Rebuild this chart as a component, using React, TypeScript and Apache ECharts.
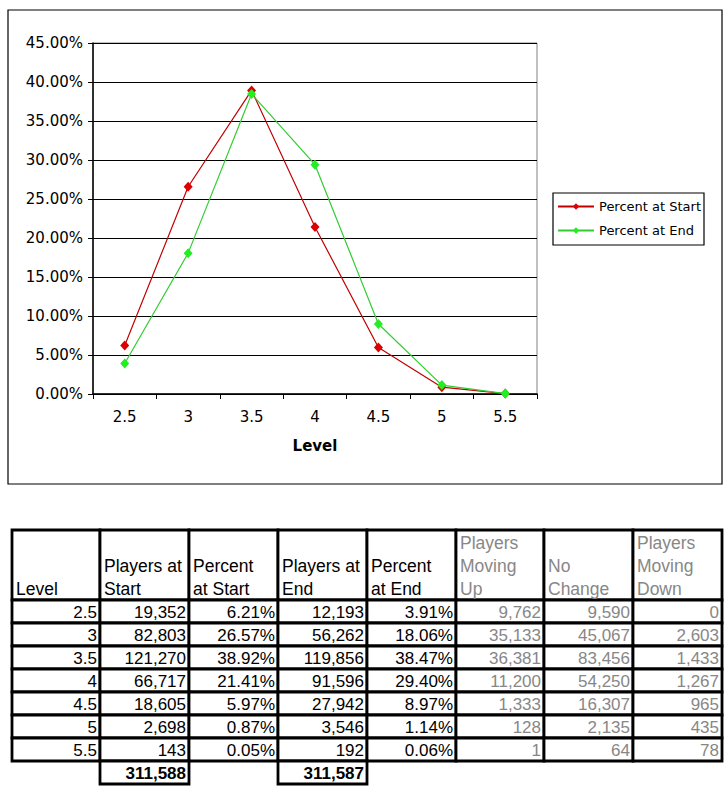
import React, { useEffect, useRef } from "react";
import * as echarts from "echarts";

const levels = ["2.5", "3", "3.5", "4", "4.5", "5", "5.5"];
const pctStart = [6.21, 26.57, 38.92, 21.41, 5.97, 0.87, 0.05];
const pctEnd = [3.91, 18.06, 38.47, 29.4, 8.97, 1.14, 0.06];
const playersStart = [19352, 82803, 121270, 66717, 18605, 2698, 143];
const playersEnd = [12193, 56262, 119856, 91596, 27942, 3546, 192];
const movingUp = [9762, 35133, 36381, 11200, 1333, 128, 1];
const noChange = [9590, 45067, 83456, 54250, 16307, 2135, 64];
const movingDown = [0, 2603, 1433, 1267, 965, 435, 78];
const headers = [
  "Level",
  "Players at\nStart",
  "Percent\nat Start",
  "Players at\nEnd",
  "Percent\nat End",
  "Players\nMoving\nUp",
  "No\nChange",
  "Players\nMoving\nDown",
];
const seriesNames = ["Percent at Start", "Percent at End"];
const yTicks = [0, 5, 10, 15, 20, 25, 30, 35, 40, 45];

const fmt = (n: number) => n.toLocaleString("en-US");

export default function App() {
  const ref = useRef<HTMLDivElement>(null);
  useEffect(() => {
    if (!ref.current) return;
    const chart = echarts.init(ref.current, null, { renderer: "svg" });
    const cols = [12, 100, 189, 278, 367, 456, 544, 633, 722];
    const hTop = 530;
    const hBot = 600;
    const rowH = 23;
    const tFont = "Liberation Sans, Arial, sans-serif";
    const grey = "#878787";
    const els: any[] = [];
    els.push({
      type: "rect",
      shape: { x: 8, y: 10, width: 714, height: 474 },
      style: { fill: "none", stroke: "#000", lineWidth: 1.2 },
      z: 0,
    });
    const cell = (x0: number, y0: number, x1: number, y1: number) =>
      els.push({
        type: "rect",
        shape: { x: x0, y: y0, width: x1 - x0, height: y1 - y0 },
        style: { fill: "#fff", stroke: "#000", lineWidth: 2.8 },
        z: 1,
      });
    const txt = (t: string, x: number, y: number, align: string, vAlign: string, color: string, bold = false, size = 17) =>
      els.push({
        type: "text",
        x,
        y,
        z: 3,
        style: {
          text: t,
          align,
          verticalAlign: vAlign,
          fill: color,
          font: `${bold ? "bold " : ""}${size}px ${tFont}`,
          lineHeight: 23,
        },
      });
    // header
    for (let c = 0; c < 8; c++) {
      cell(cols[c], hTop, cols[c + 1], hBot);
      txt(headers[c], cols[c] + 4, hBot, "left", "bottom", c >= 5 ? grey : "#000", false, 17.5);
    }
    const colsData = [
      levels,
      playersStart.map(fmt),
      pctStart.map((v) => v.toFixed(2) + "%"),
      playersEnd.map(fmt),
      pctEnd.map((v) => v.toFixed(2) + "%"),
      movingUp.map(fmt),
      noChange.map(fmt),
      movingDown.map(fmt),
    ];
    for (let r = 0; r < levels.length; r++) {
      const y0 = hBot + r * rowH;
      for (let c = 0; c < 8; c++) {
        cell(cols[c], y0, cols[c + 1], y0 + rowH);
        txt(colsData[c][r], cols[c + 1] - 3, y0 + 12, "right", "middle", c >= 5 ? grey : "#000");
      }
    }
    const totY = hBot + levels.length * rowH;
    const totals = [playersStart.reduce((a, b) => a + b, 0), playersEnd.reduce((a, b) => a + b, 0)];
    [1, 3].forEach((c, i) => {
      cell(cols[c], totY, cols[c + 1], totY + rowH);
      txt(fmt(totals[i]), cols[c + 1] - 3, totY + 12, "right", "middle", "#000", true);
    });

    const cFont = "DejaVu Sans";
    chart.setOption({
      animation: false,
      backgroundColor: "#fff",
      grid: {
        left: 93,
        top: 43,
        width: 444,
        height: 351,
        show: true,
        borderColor: "#808080",
        borderWidth: 1,
        backgroundColor: "transparent",
      },
      legend: {
        orient: "vertical",
        left: 553,
        top: 193,
        data: seriesNames,
        borderColor: "#000",
        borderWidth: 1.2,
        padding: [7, 3, 8, 4],
        itemGap: 11,
        itemWidth: 36,
        itemHeight: 8,
        textStyle: { fontFamily: cFont, fontSize: 13, color: "#000" },
      },
      xAxis: {
        type: "category",
        data: levels,
        boundaryGap: true,
        name: "Level",
        nameLocation: "middle",
        nameGap: 44,
        nameTextStyle: { fontFamily: cFont, fontSize: 15, fontWeight: "bold", color: "#000" },
        axisLine: { lineStyle: { color: "#000", width: 1.5 } },
        axisTick: { show: true, length: 5, lineStyle: { color: "#000" } },
        axisLabel: { fontFamily: cFont, fontSize: 15, color: "#000", margin: 15 },
        splitLine: { show: false },
      },
      yAxis: {
        type: "value",
        min: yTicks[0],
        max: yTicks[yTicks.length - 1],
        interval: 5,
        axisLine: { show: true, lineStyle: { color: "#000", width: 1.5 } },
        axisTick: { show: true, length: 5, lineStyle: { color: "#000" } },
        axisLabel: {
          fontFamily: cFont,
          fontSize: 15,
          color: "#000",
          margin: 10,
          formatter: (v: number) => v.toFixed(2) + "%",
        },
        splitLine: { show: true, lineStyle: { color: "#000", width: 1.2 } },
      },
      series: [
        {
          name: seriesNames[0],
          type: "line",
          data: pctStart,
          symbol: "diamond",
          symbolSize: [9, 10],
          lineStyle: { color: "#c00000", width: 1.2 },
          itemStyle: { color: "#dc0000" },
          z: 3,
        },
        {
          name: seriesNames[1],
          type: "line",
          data: pctEnd,
          symbol: "diamond",
          symbolSize: [9, 10],
          lineStyle: { color: "#33cc33", width: 1.2 },
          itemStyle: { color: "#22ee22" },
          z: 4,
        },
      ],
      graphic: { elements: els },
    });
    return () => chart.dispose();
  }, []);
  return (
    <div
      ref={ref}
      style={{ position: "absolute", left: 0, top: 0, width: 728, height: 810, background: "#fff" }}
    />
  );
}
